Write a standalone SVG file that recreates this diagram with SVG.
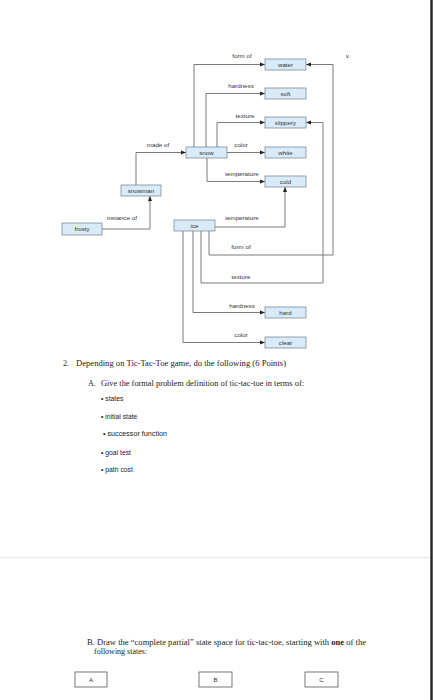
<svg xmlns="http://www.w3.org/2000/svg" width="433" height="700" viewBox="0 0 433 700">
<style>
.box{fill:#d9ebf9;stroke:#7d8c99;stroke-width:0.8}
.bt{font-family:"Liberation Sans",Arial,sans-serif;font-size:6.2px;fill:#333;text-anchor:middle}
.lbl{font-family:"Liberation Sans",Arial,sans-serif;font-size:6.2px;fill:#333;text-anchor:middle}
.con{fill:none;stroke:#7a7a7a;stroke-width:1}
.ser{font-family:"Liberation Serif","Times New Roman",serif;font-size:8px;fill:#222}
.san{font-family:"Liberation Sans",Arial,sans-serif;font-size:6.8px;fill:#222}
.sb{fill:#fff;stroke:#555;stroke-width:0.8}
</style>
<defs>
<marker id="ah" viewBox="0 0 10 10" refX="10" refY="5" markerWidth="5" markerHeight="5" orient="auto" markerUnits="userSpaceOnUse">
<path d="M0,1 L10,5 L0,9 z" fill="#222"/>
</marker>
</defs>
<rect width="433" height="700" fill="#fff"/>
<g id="connectors">
<path class="con" marker-end="url(#ah)" d="M194,147 V64.5 H265"/>
<path class="con" marker-end="url(#ah)" d="M206,147 V93.5 H265"/>
<path class="con" marker-end="url(#ah)" d="M217,147 V122.5 H265"/>
<path class="con" marker-end="url(#ah)" d="M227,152.5 H265"/>
<path class="con" marker-end="url(#ah)" d="M207,158 V181.5 H265"/>
<path class="con" marker-end="url(#ah)" d="M136,185 V152.5 H186"/>
<path class="con" marker-end="url(#ah)" d="M102,229 H150 V196"/>
<path class="con" marker-end="url(#ah)" d="M215,227 H285 V187"/>
<path class="con" marker-end="url(#ah)" d="M209,231 V255 H333 V64.5 H306"/>
<path class="con" marker-end="url(#ah)" d="M201,231 V283 H323 V122.5 H306"/>
<path class="con" marker-end="url(#ah)" d="M193,231 V312.5 H265"/>
<path class="con" marker-end="url(#ah)" d="M183,231 V342.5 H265"/>
</g>
<g id="labels">
<text class="lbl" x="242" y="58">form of</text>
<text class="lbl" x="241" y="88">hardness</text>
<text class="lbl" x="245" y="118">texture</text>
<text class="lbl" x="158" y="147">made of</text>
<text class="lbl" x="241" y="147">color</text>
<text class="lbl" x="242" y="176">temperature</text>
<text class="lbl" x="122" y="220">instance of</text>
<text class="lbl" x="242" y="220">temperature</text>
<text class="lbl" x="241" y="249">form of</text>
<text class="lbl" x="241" y="279">texture</text>
<text class="lbl" x="242" y="308">hardness</text>
<text class="lbl" x="241" y="337">color</text>
</g>
<g id="water"><rect class="box" x="265" y="59" width="41" height="11"/><text class="bt" x="285.5" y="66.7">water</text></g>
<g id="soft"><rect class="box" x="265" y="88" width="41" height="11"/><text class="bt" x="285.5" y="95.7">soft</text></g>
<g id="slippery"><rect class="box" x="265" y="117" width="41" height="11"/><text class="bt" x="285.5" y="124.7">slippery</text></g>
<g id="white"><rect class="box" x="265" y="147" width="41" height="11"/><text class="bt" x="285.5" y="154.7">white</text></g>
<g id="cold"><rect class="box" x="265" y="176" width="41" height="11"/><text class="bt" x="285.5" y="183.7">cold</text></g>
<g id="snow"><rect class="box" x="186" y="147" width="41" height="11"/><text class="bt" x="206.5" y="154.7">snow</text></g>
<g id="snowman"><rect class="box" x="121" y="185" width="40" height="11"/><text class="bt" x="141" y="192.7">snowman</text></g>
<g id="frosty"><rect class="box" x="62" y="223" width="40" height="12"/><text class="bt" x="82" y="231.2">frosty</text></g>
<g id="ice"><rect class="box" x="174" y="220" width="41" height="11"/><text class="bt" x="194.5" y="227.7">ice</text></g>
<g id="hard"><rect class="box" x="265" y="307" width="41" height="11"/><text class="bt" x="285.5" y="314.7">hard</text></g>
<g id="clear"><rect class="box" x="265" y="337" width="41" height="11"/><text class="bt" x="285.5" y="344.7">clear</text></g>
<text class="lbl" x="348" y="58" font-size="5">v.</text>
<text class="ser" x="63" y="366">2.</text>
<text class="ser" x="76" y="366" textLength="210" lengthAdjust="spacingAndGlyphs">Depending on Tic-Tac-Toe game, do the following  (6 Points)</text>
<text class="ser" x="88" y="386">A.</text>
<text class="ser" x="101" y="386" textLength="203" lengthAdjust="spacingAndGlyphs">Give the formal problem definition of tic-tac-toe in terms of:</text>
<text class="san" x="101" y="400.5">• states</text>
<text class="san" x="101" y="418.5">• initial state</text>
<text class="san" x="103" y="435.5" textLength="64" lengthAdjust="spacingAndGlyphs">• successor function</text>
<text class="san" x="101" y="454.5">• goal test</text>
<text class="san" x="101" y="471.5">• path cost</text>
<line x1="0" y1="557.5" x2="430" y2="557.5" stroke="#ebebeb" stroke-width="1.5"/>
<line x1="431.5" y1="0" x2="431.5" y2="700" stroke="#2a2a2a" stroke-width="2.5"/>
<text class="ser" x="87" y="644.5" textLength="279" lengthAdjust="spacingAndGlyphs">B.  Draw the “complete partial” state space for tic-tac-toe, starting with <tspan font-weight="bold">one</tspan> of the</text>
<text class="ser" x="94" y="654">following states:</text>
<g id="boxA"><rect class="sb" x="75" y="672" width="32" height="15"/><text class="bt" x="91" y="681.5">A</text></g>
<g id="boxB"><rect class="sb" x="199" y="672" width="33" height="15"/><text class="bt" x="215.5" y="681.5">B</text></g>
<g id="boxC"><rect class="sb" x="305" y="672" width="33" height="15"/><text class="bt" x="321.5" y="681.5">C</text></g>
</svg>
